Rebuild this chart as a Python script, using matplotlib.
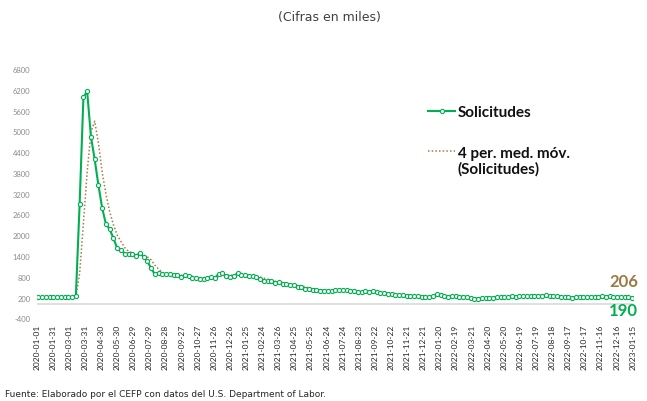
import matplotlib
matplotlib.use('Agg')
import matplotlib.pyplot as plt
import pandas as pd
from matplotlib.lines import Line2D

plt.rcParams['font.family'] = ['Lato', 'DejaVu Sans']

# Weekly initial claims (thousands), week ending Saturday
claims_2020 = [214, 207, 220, 215, 203, 205, 211, 219, 217, 211, 256, 2914, 5980,
               6150, 4850, 4190, 3440, 2780, 2320, 2170, 1910, 1620, 1570, 1470,
               1470, 1450, 1400, 1480, 1380, 1250, 1045, 870, 920, 870, 880, 870,
               860, 840, 795, 850, 820, 770, 756, 740, 727, 760, 790, 760, 890, 900,
               830, 800]
claims_2021 = [820, 900, 860, 840, 810, 810, 800, 740, 690, 680, 680, 612, 650,
               585, 580, 554, 560, 517, 490, 460, 440, 420, 415, 395, 395, 392,
               390, 420, 420, 418, 415, 395, 392, 362, 362, 375, 362, 375, 355,
               340, 320, 305, 295, 280, 270, 268, 250, 245, 235, 230, 228, 225]
claims_2022 = [207, 231, 290, 261, 238, 223, 249, 232, 215, 227, 214, 187, 171,
               167, 185, 184, 181, 200, 203, 218, 211, 202, 232, 229, 231, 235,
               235, 244, 251, 256, 248, 262, 250, 243, 232, 218, 208, 213, 193,
               219, 228, 214, 217, 218, 225, 223, 241, 226, 231, 214, 216, 223, 204]
claims_2023 = [205, 190]

claims = claims_2020 + claims_2021 + claims_2022 + claims_2023
week_dates = pd.date_range('2020-01-04', periods=len(claims), freq='7D')
ma4 = pd.Series(claims).rolling(4).mean()

tick_dates = pd.date_range('2020-01-01', '2023-01-15', freq='30D')
y_ticks = list(range(-400, 7000, 600))

green = '#00B050'
brown = '#A87A45'

fig = plt.figure(figsize=(6.47, 4.02), dpi=100)
ax = fig.add_axes([0.0567, 0.2057, 0.9213, 0.6202])
ax.plot(week_dates, ma4, linestyle=(0, (1, 1.4)), color=brown, lw=1.1, zorder=2)
ax.plot(week_dates, claims, color=green, lw=1.5, marker='o', ms=3, mfc='white',
        mec=green, mew=0.8, zorder=3)
ax.axhline(0, color='#D9D9D9', lw=1.2, zorder=1)
ax.set_xlim(tick_dates[0], tick_dates[-1])
ax.set_ylim(-400, 6800)
ax.set_yticks(y_ticks)
ax.set_yticklabels([str(v) for v in y_ticks], fontsize=5.5, color='#8C8C8C')
ax.set_xticks(tick_dates)
ax.set_xticklabels([d.strftime('%Y-%m-%d') for d in tick_dates], rotation=90,
                   fontsize=6, color='#262626')
for s in ax.spines.values():
    s.set_visible(False)
ax.tick_params(length=0)
ax.tick_params(axis='y', pad=4.5)
ax.tick_params(axis='x', pad=4)

# Legend drawn manually
fig.add_artist(Line2D([428 / 647, 455 / 647], [1 - 112 / 402] * 2, color=green, lw=1.5))
fig.add_artist(Line2D([441.7 / 647], [1 - 112 / 402], color=green, marker='o', ms=3,
                      mfc='white', mec=green, mew=0.8))
fig.text(458 / 647, 1 - 113 / 402, 'Solicitudes', fontsize=11, fontweight='bold',
         va='center', ha='left', color='#111111')
fig.add_artist(Line2D([428 / 647, 455 / 647], [1 - 152 / 402] * 2, color=brown, lw=1.1,
                      linestyle=(0, (1, 1.4))))
fig.text(458 / 647, 1 - 162 / 402, '4 per. med. móv.\n(Solicitudes)', fontsize=11,
         fontweight='bold', va='center', ha='left', color='#111111', linespacing=1.1)

# End labels
fig.text(638 / 647, 1 - 282 / 402, f'{ma4.iloc[-1]:.0f}', ha='right', va='center',
         fontsize=12, fontweight='bold', color='#9B7B45')
fig.text(638 / 647, 1 - 311 / 402, f'{claims[-1]}', ha='right', va='center',
         fontsize=12, fontweight='bold', color=green)

fig.text(329 / 647, 1 - 18 / 402, '(Cifras en miles)', fontsize=9, ha='center',
         va='center', color='#404040', family='DejaVu Sans')
fig.text(5 / 647, 1 - 395 / 402, 'Fuente: Elaborado por el CEFP con datos del U.S. Department of Labor.',
         fontsize=6.5, ha='left', va='center', color='#262626', family='DejaVu Sans')

fig.savefig('out.png', dpi=100)
